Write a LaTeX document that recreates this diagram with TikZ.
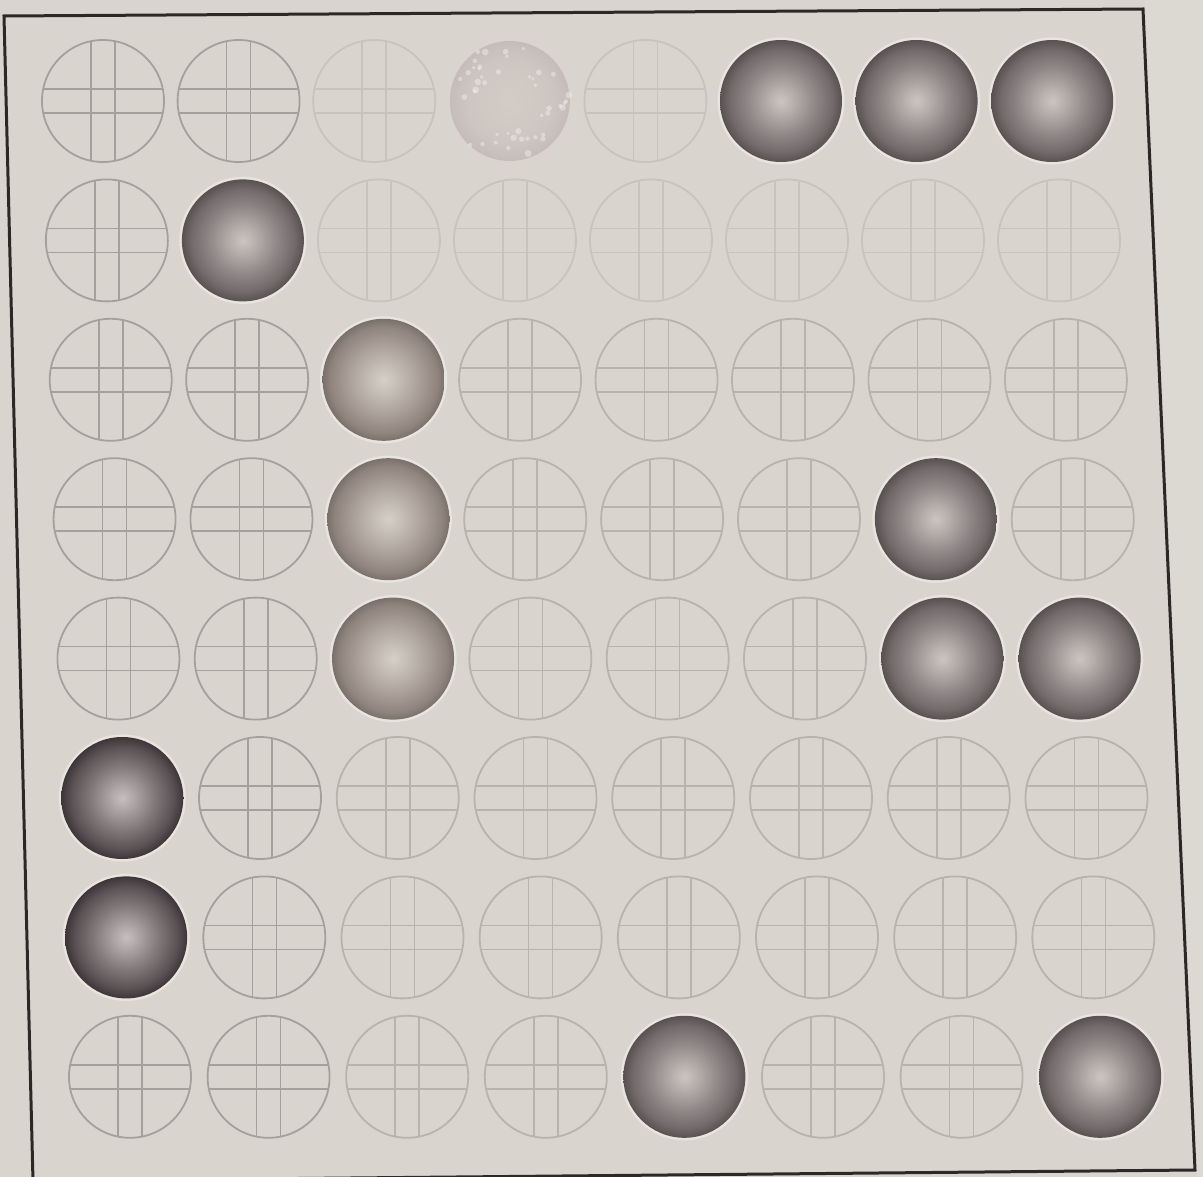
\documentclass[tikz,border=0pt]{standalone}
\usetikzlibrary{calc}
\definecolor{paper}{RGB}{217,213,206}
\definecolor{frameC}{RGB}{45,40,38}
\definecolor{holeA}{RGB}{165,160,155}
\definecolor{holeB}{RGB}{184,179,173}
\definecolor{holeC}{RGB}{199,195,189}
\definecolor{haloC}{RGB}{232,229,224}
\pgfdeclareradialshading{sphdk}{\pgfpoint{0bp}{0bp}}{rgb(0bp)=(0.80,0.77,0.76); rgb(5bp)=(0.72,0.69,0.68); rgb(14bp)=(0.56,0.53,0.53); rgb(21bp)=(0.45,0.42,0.42); rgb(25bp)=(0.35,0.32,0.32); rgb(50bp)=(0.35,0.32,0.32)}
\pgfdeclareradialshading{sphbk}{\pgfpoint{0bp}{0bp}}{rgb(0bp)=(0.78,0.75,0.75); rgb(5bp)=(0.68,0.65,0.65); rgb(14bp)=(0.49,0.46,0.46); rgb(21bp)=(0.35,0.32,0.33); rgb(25bp)=(0.24,0.21,0.22); rgb(50bp)=(0.24,0.21,0.22)}
\pgfdeclareradialshading{sphbr}{\pgfpoint{0bp}{0bp}}{rgb(0bp)=(0.84,0.81,0.78); rgb(6bp)=(0.77,0.74,0.71); rgb(15bp)=(0.66,0.62,0.59); rgb(22bp)=(0.56,0.52,0.49); rgb(25bp)=(0.48,0.44,0.42); rgb(50bp)=(0.48,0.44,0.42)}
\pgfdeclareradialshading{sphgh}{\pgfpoint{0bp}{0bp}}{rgb(0bp)=(0.83,0.80,0.78); rgb(18bp)=(0.80,0.77,0.75); rgb(25bp)=(0.77,0.73,0.72); rgb(50bp)=(0.77,0.73,0.72)}
\tikzset{
  hole/.style={circle, draw=#1, line width=1.8pt, minimum size=122pt, inner sep=0pt,
    path picture={
      \draw[#1, line width=1.6pt]
        ([xshift=-12pt]path picture bounding box.north) -- ([xshift=-12pt]path picture bounding box.south)
        ([xshift=12pt]path picture bounding box.north) -- ([xshift=12pt]path picture bounding box.south)
        ([yshift=-12pt]path picture bounding box.west) -- ([yshift=-12pt]path picture bounding box.east)
        ([yshift=12pt]path picture bounding box.west) -- ([yshift=12pt]path picture bounding box.east);
    }},
  ball/.style={circle, minimum size=122pt, inner sep=0pt, shading=#1,
    preaction={draw=haloC, line width=5pt}},
  dk/.style={ball=sphdk},
  bk/.style={ball=sphbk},
  br/.style={ball=sphbr},
  gh/.style={circle, minimum size=120pt, inner sep=0pt, shading=sphgh, opacity=0.9},
}
\begin{document}
\begin{tikzpicture}[x=1pt,y=-1pt]
\useasboundingbox (0,0) rectangle (1203,1177);
\fill[paper] (0,0) rectangle (1203,1177);
\fill[paper!92!white] (1145,0) -- (1203,0) -- (1203,1177) -- (1197,1177) -- cycle;
\draw[frameC, line width=3pt, line join=miter] (4,16) -- (1143,9) -- (1195,1170) -- (33,1181) -- cycle;
% filled positions
\expandafter\def\csname f-4-1\endcsname{}
\expandafter\def\csname f-6-1\endcsname{}
\expandafter\def\csname f-7-1\endcsname{}
\expandafter\def\csname f-8-1\endcsname{}
\expandafter\def\csname f-2-2\endcsname{}
\expandafter\def\csname f-3-3\endcsname{}
\expandafter\def\csname f-3-4\endcsname{}
\expandafter\def\csname f-3-5\endcsname{}
\expandafter\def\csname f-7-4\endcsname{}
\expandafter\def\csname f-7-5\endcsname{}
\expandafter\def\csname f-8-5\endcsname{}
\expandafter\def\csname f-1-6\endcsname{}
\expandafter\def\csname f-1-7\endcsname{}
\expandafter\def\csname f-5-8\endcsname{}
\expandafter\def\csname f-8-8\endcsname{}
% empty holes
\foreach \i in {1,...,8}{
  \foreach \j in {1,...,8}{
    \pgfmathsetmacro{\px}{103+135.6*(\i-1)+(27+3*(\i-1))*(\j-1)/7}
    \pgfmathsetmacro{\py}{101+139.4*(\j-1)}
    \ifnum\i<3 \def\hc{holeA}\else\ifnum\j<3 \def\hc{holeC}\else\def\hc{holeB}\fi\fi
    \ifcsname f-\i-\j\endcsname\else
      \node[hole=\hc] (c-\i-\j) at (\px,\py) {};
    \fi
  }
}
% spheres
\foreach \i/\j/\t in {6/1/dk,7/1/dk,8/1/dk,2/2/dk,3/3/br,3/4/br,3/5/br,7/4/dk,7/5/dk,8/5/dk,1/6/bk,1/7/bk,5/8/dk,8/8/dk,4/1/gh}{
  \pgfmathsetmacro{\px}{103+135.6*(\i-1)+(27+3*(\i-1))*(\j-1)/7}
  \pgfmathsetmacro{\py}{101+139.4*(\j-1)}
  \node[\t] (s-\i-\j) at (\px,\py) {};
}
% speckles on the faded ball
\pgfmathsetseed{11}
\foreach \k in {1,...,45}{
  \pgfmathsetmacro{\ang}{360*rnd}
  \pgfmathsetmacro{\rr}{30+30*rnd}
  \pgfmathsetmacro{\sz}{1.5+2*rnd}
  \fill[white, opacity=0.35] ($(s-4-1.center)+(\ang:\rr)$) circle (\sz);
}
\end{tikzpicture}
\end{document}
